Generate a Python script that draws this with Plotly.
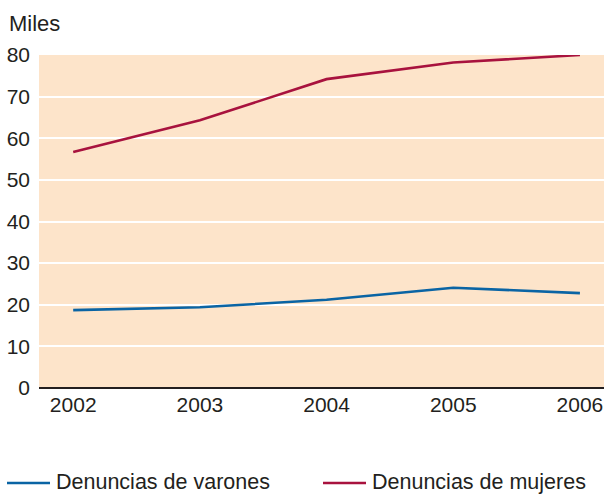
import plotly.graph_objects as go

years = [2002, 2003, 2004, 2005, 2006]
varones = [18.7, 19.4, 21.2, 24.1, 22.8]
mujeres = [56.7, 64.3, 74.2, 78.2, 80.0]
y_ticks = [0, 10, 20, 30, 40, 50, 60, 70, 80]
series_names = ["Denuncias de varones", "Denuncias de mujeres"]
series_colors = ["#0a64a4", "#a8123e"]

font_family = "Liberation Sans, Arial, sans-serif"
text_color = "#231f20"
W, H = 604, 495
ML, MR, MT, MB = 39, 0, 55, 107
plot_w, plot_h = W - ML - MR, H - MT - MB


def px_x(x):
    return (x - ML) / plot_w


def px_y(y):
    return (MT + plot_h - y) / plot_h


fig = go.Figure()
for name, values, color in zip(series_names, [varones, mujeres], series_colors):
    fig.add_trace(go.Scatter(
        x=years, y=values, mode="lines", name=name,
        line=dict(color=color, width=2.6), showlegend=False,
    ))

# legend row below the chart: a line swatch followed by the series name
legend_y = 482
legend_slots = [(7, 50, 56), (323, 366, 372)]
shapes, annotations = [], []
for (x0, x1, tx), name, color in zip(legend_slots, series_names, series_colors):
    shapes.append(dict(
        type="line", xref="paper", yref="paper",
        x0=px_x(x0), x1=px_x(x1), y0=px_y(legend_y + 1), y1=px_y(legend_y + 1),
        line=dict(color=color, width=2.6),
    ))
    annotations.append(dict(
        text=name, x=px_x(tx - 1), y=px_y(legend_y),
        xref="paper", yref="paper", showarrow=False,
        xanchor="left", yanchor="middle", borderpad=0,
        font=dict(size=21.5, color=text_color),
    ))

annotations.append(dict(
    text="Miles", x=px_x(7), y=px_y(24),
    xref="paper", yref="paper", showarrow=False,
    xanchor="left", yanchor="middle",
    font=dict(size=22, color=text_color),
))

fig.update_layout(
    width=W, height=H,
    margin=dict(l=ML, r=MR, t=MT, b=MB, autoexpand=False),
    paper_bgcolor="white",
    plot_bgcolor="#fde4ca",
    font=dict(family=font_family, size=21, color=text_color),
    showlegend=False,
    shapes=shapes,
    annotations=annotations,
)

fig.update_xaxes(
    range=[2001.73, 2006.19],
    tickvals=years, ticktext=[str(y) for y in years],
    showgrid=False, zeroline=False,
    showline=False, ticks="", ticklabelstandoff=2,
)
fig.update_yaxes(
    range=[0, 80], tickvals=y_ticks,
    showgrid=True, gridcolor="white", gridwidth=1.5,
    zeroline=True, zerolinecolor="#231f20", zerolinewidth=1.5,
    ticks="", ticklabelstandoff=8,
)

fig.write_html("out.html")
